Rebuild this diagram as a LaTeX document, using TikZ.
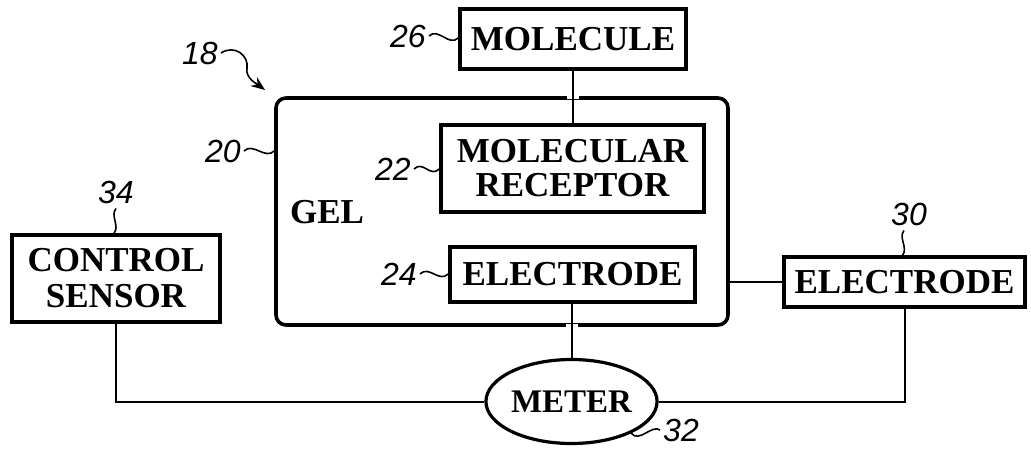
\documentclass[tikz,border=0pt]{standalone}
\usepackage{fontspec}
\setmainfont{Liberation Serif}
\newfontfamily\numfont{Liberation Sans}
\usetikzlibrary{shapes.geometric,arrows.meta,calc}
\begin{document}
\begin{tikzpicture}[x=1pt,y=-1pt,
  box/.style={draw,line width=3.6pt,inner sep=0pt,align=center,
    font=\fontsize{35}{35}\selectfont\bfseries},
  conn/.style={line width=2pt},
  num/.style={inner sep=0pt,font=\fontsize{32}{32}\selectfont\numfont\itshape},
  sq/.style={line width=1.6pt},
  gap/.style={white,line width=6pt}]
\useasboundingbox[fill=white] (0,0) rectangle (1031,450);

% boxes
\node[box,rounded corners=10pt,minimum width=452,minimum height=227] (gel) at (502,211.5) {};
\node[box,minimum width=226,minimum height=60] (mol) at (573,39) {MOLECULE};
\node[box,minimum width=263,minimum height=87] (rec) at (572.5,168.5) {MOLECULAR\\[-1pt]RECEPTOR};
\node[box,minimum width=245,minimum height=55] (el24) at (572.5,274.5) {ELECTRODE};
\node[box,minimum width=208,minimum height=87] (ctrl) at (116,278.5) {CONTROL\\[1pt]SENSOR};
\node[box,minimum width=241,minimum height=50] (el30) at (904.5,282) {ELECTRODE};
\node[box,ellipse,line width=3.2pt,minimum width=140,minimum height=84,
  font=\fontsize{33}{33}\selectfont\bfseries] (meter) at (571.5,401.5) {METER};
\node[inner sep=0pt,font=\fontsize{35}{35}\selectfont\bfseries] (geltext) at (327,212) {GEL};

% labels
\node[num] (l18) at (200,53) {18};
\node[num] (l26) at (408,36) {26};
\node[num] (l20) at (223,151) {20};
\node[num] (l22) at (393,169) {22};
\node[num] (l24) at (399,274) {24};
\node[num] (l34) at (116,192) {34};
\node[num] (l30) at (909,214) {30};
\node[num] (l32) at (681,430) {32};

% gaps in gel outline where connectors pass
\draw[gap] ($(mol.south |- gel.north)+(-6,0)$) -- ($(mol.south |- gel.north)+(6,0)$);
\draw[gap] ($(meter.north |- gel.south)+(-6,0)$) -- ($(meter.north |- gel.south)+(6,0)$);

% connectors
\draw[conn] (mol.south) -- (mol.south |- rec.north);
\draw[conn] (meter.north |- el24.south) -- (meter.north);
\draw[conn] (el30.west) -- (el30.west -| gel.east);
\draw[conn] (ctrl.south) |- (meter.west);
\draw[conn] (el30.south) |- (meter.east);

% leader squiggles
\draw[sq] ([xshift=3pt]l26.east) .. controls +(9,-9) and +(-9,9) .. ([yshift=1pt]mol.west);
\draw[sq] ([xshift=3pt]l20.east) .. controls +(9,-9) and +(-9,9) .. (gel.west |- l20.east);
\draw[sq] ([xshift=3pt]l22.east) .. controls +(9,-9) and +(-9,9) .. (rec.west |- l22.east);
\draw[sq] ([xshift=3pt]l24.east) .. controls +(9,-9) and +(-9,9) .. (el24.west |- l24.east);
\draw[sq] ([yshift=-5pt]l34.south) .. controls +(-6,7) and +(6,-7) .. ([xshift=-2pt]ctrl.north);
\draw[sq] ([xshift=-5pt,yshift=-5pt]l30.south) .. controls +(-6,7) and +(6,-7) .. ([xshift=-2pt]el30.north);
\draw[sq] (meter.-28) .. controls +(8,10) and +(-8,-6) .. ([xshift=-3pt]l32.west);
\coordinate (a18) at (265,90);
\coordinate (m18) at (247,68);
\draw[sq,-{Stealth[length=14pt,width=11pt]}] ([xshift=3pt]l18.east)
  .. controls +(14,-9) and +(2,-12) .. (m18)
  .. controls +(-2,10) and +(-8,-6) .. (a18);
\end{tikzpicture}
\end{document}
